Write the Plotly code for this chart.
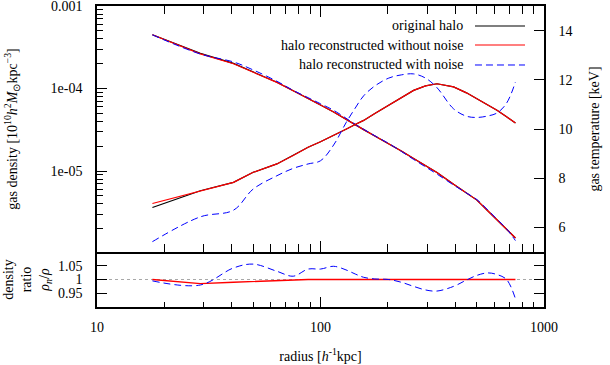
import plotly.graph_objects as go

# radial bins [h^-1 kpc]
radius = [17.7, 29, 40.8, 50, 63.8, 75.5, 88, 100, 114.5, 130, 143, 156, 175,
          202, 230, 261, 295, 332, 394, 450, 501, 560, 616, 680, 745]

# gas density [1e10 h^2 Msun kpc^-3]
dens_orig = [4.49e-4, 2.67e-4, 2.02e-4, 1.59e-4, 1.19e-4, 9.4e-5, 7.48e-5, 6.31e-5,
             5.2e-5, 4.23e-5, 3.61e-5, 3.18e-5, 2.67e-5, 2.16e-5, 1.75e-5, 1.42e-5,
             1.17e-5, 9.6e-6, 6.95e-6, 5.43e-6, 4.45e-6, 3.31e-6, 2.57e-6, 2.0e-6, 1.55e-6]
dens_clean = [4.49e-4, 2.63e-4, 2.0e-4, 1.58e-4, 1.187e-4, 9.4e-5, 7.48e-5, 6.31e-5,
              5.2e-5, 4.23e-5, 3.61e-5, 3.18e-5, 2.67e-5, 2.16e-5, 1.75e-5, 1.42e-5,
              1.17e-5, 9.6e-6, 6.95e-6, 5.43e-6, 4.45e-6, 3.31e-6, 2.57e-6, 2.0e-6, 1.55e-6]
dens_noisy = [4.47e-4, 2.62e-4, 2.10e-4, 1.68e-4, 1.226e-4, 9.51e-5, 7.76e-5, 6.55e-5,
              5.45e-5, 4.38e-5, 3.68e-5, 3.21e-5, 2.68e-5, 2.16e-5, 1.73e-5, 1.385e-5,
              1.125e-5, 9.2e-6, 6.78e-6, 5.42e-6, 4.52e-6, 3.39e-6, 2.62e-6, 2.0e-6, 1.44e-6]

# gas temperature [keV]
temp_orig = [6.81, 7.49, 7.83, 8.24, 8.58, 8.92, 9.26, 9.48, 9.73, 9.99, 10.18, 10.35,
             10.63, 10.96, 11.27, 11.57, 11.75, 11.84, 11.71, 11.47, 11.23, 10.99,
             10.76, 10.50, 10.24]
temp_clean = [6.97, 7.49, 7.83, 8.24, 8.58, 8.92, 9.26, 9.48, 9.73, 9.99, 10.18, 10.35,
              10.63, 10.96, 11.27, 11.57, 11.75, 11.84, 11.71, 11.47, 11.23, 10.99,
              10.76, 10.50, 10.24]
temp_noisy = [5.42, 6.43, 6.70, 7.56, 8.10, 8.40, 8.58, 8.71, 9.35, 10.25, 10.85, 11.35,
              11.75, 12.07, 12.20, 12.24, 12.07, 11.68, 10.82, 10.52, 10.47, 10.53,
              10.65, 11.05, 11.91]

# density ratio rho_n / rho
ratio_clean = [1.0, 0.985, 0.99, 0.993, 0.997, 1.0, 1.0, 1.0, 1.0, 0.999, 1.0, 1.0, 1.0,
               0.999, 1.0, 1.001, 1.0, 1.0, 1.001, 1.0, 1.0, 1.001, 1.0, 1.0, 1.0]
ratio_noisy = [0.995, 0.98, 1.042, 1.056, 1.03, 1.012, 1.038, 1.038, 1.048, 1.035, 1.02,
               1.008, 1.002, 1.0, 0.99, 0.975, 0.962, 0.958, 0.975, 0.998, 1.015, 1.024,
               1.018, 1.0, 0.93]
ratio_ref_x = [10, 1000]
ratio_ref_y = [1, 1]

legend_names = ["original halo", "halo reconstructed without noise",
                "halo reconstructed with noise"]

FONT = "Liberation Serif"
BLACK = "#000000"
RED = "#ff0000"
BLUE = "#0000ff"
DASH = "7px,4px"

fig = go.Figure()

# top panel: density (left, log)
fig.add_trace(go.Scatter(x=radius, y=dens_orig, xaxis="x2", yaxis="y",
                         mode="lines", line=dict(color=BLACK, width=1.2)))
fig.add_trace(go.Scatter(x=radius, y=dens_clean, xaxis="x2", yaxis="y",
                         mode="lines", line=dict(color=RED, width=1.2)))
fig.add_trace(go.Scatter(x=radius, y=dens_noisy, xaxis="x2", yaxis="y",
                         mode="lines", line=dict(color=BLUE, width=1, dash=DASH, shape="spline")))

# top panel: temperature (right, linear)
fig.add_trace(go.Scatter(x=radius, y=temp_orig, xaxis="x2", yaxis="y2",
                         mode="lines", line=dict(color=BLACK, width=1.2)))
fig.add_trace(go.Scatter(x=radius, y=temp_clean, xaxis="x2", yaxis="y2",
                         mode="lines", line=dict(color=RED, width=1.2)))
fig.add_trace(go.Scatter(x=radius, y=temp_noisy, xaxis="x2", yaxis="y2",
                         mode="lines", line=dict(color=BLUE, width=1, dash=DASH, shape="spline")))

# bottom panel: ratio, with dotted line at 1
fig.add_trace(go.Scatter(x=ratio_ref_x, y=ratio_ref_y, xaxis="x", yaxis="y3",
                         mode="lines", line=dict(color="#a8a8a8", width=1, dash="dot")))
fig.add_trace(go.Scatter(x=radius, y=ratio_clean, xaxis="x", yaxis="y3",
                         mode="lines", line=dict(color=RED, width=1.3)))
fig.add_trace(go.Scatter(x=radius, y=ratio_noisy, xaxis="x", yaxis="y3",
                         mode="lines", line=dict(color=BLUE, width=1, dash=DASH, shape="spline")))

split = 0.1827
xminor = [k * 10 ** e for e in (1, 2) for k in range(2, 10)]
yminor = [k * 10 ** e for e in (-6, -5, -4) for k in range(2, 10)]

axis_common = dict(showline=True, linecolor="black", linewidth=1.5, showgrid=False,
                   zeroline=False, ticks="inside", tickcolor="black", tickwidth=1,
                   automargin=False, ticklabeloverflow="allow",
                   tickfont=dict(family=FONT, size=14, color="black"))

fig.update_layout(
    width=610, height=365,
    margin=dict(l=97, r=66, t=6, b=58),
    plot_bgcolor="white", paper_bgcolor="white",
    showlegend=False,
    font=dict(family=FONT, size=14, color="black"),
    xaxis=dict(axis_common, type="log", range=[1, 3], domain=[0, 1], anchor="y3",
               tickvals=[10, 100, 1000], ticktext=["10", "100", "1000"],
               ticklen=10, ticklabelstandoff=6,
               minor=dict(ticks="inside", ticklen=5, tickcolor="black",
                          tickmode="array", tickvals=xminor),
               title=dict(text="radius [<i>h</i><sup>-1</sup>kpc]", standoff=18,
                          font=dict(family=FONT, size=14))),
    xaxis2=dict(axis_common, type="log", range=[1, 3], domain=[0, 1], anchor="y",
                matches="x", mirror="ticks", tickvals=[10, 100, 1000], showticklabels=False,
                ticklen=11,
                minor=dict(ticks="inside", ticklen=8, tickcolor="black",
                           tickmode="array", tickvals=xminor)),
    yaxis=dict(axis_common, type="log", range=[-5.98, -3], domain=[split, 1], anchor="x2",
               tickvals=[1e-5, 1e-4, 1e-3], ticktext=["1e-05", "1e-04", "0.001"],
               ticklen=10, ticklabelstandoff=10,
               minor=dict(ticks="inside", ticklen=6, tickcolor="black",
                          tickmode="array", tickvals=yminor),
               title=dict(text="gas density [10<sup>10</sup><i>h</i><sup>2</sup><i>M</i><sub>⊙</sub>kpc<sup>−3</sup>]",
                          standoff=30, font=dict(family=FONT, size=14))),
    yaxis2=dict(axis_common, range=[5, 15], overlaying="y", side="right", anchor="x2",
                tickvals=[6, 8, 10, 12, 14], ticklen=10, ticklabelstandoff=10,
                title=dict(text="gas temperature [keV]", standoff=18,
                           font=dict(family=FONT, size=14))),
    yaxis3=dict(axis_common, range=[0.9, 1.1], domain=[0, split], anchor="x",
                mirror="ticks", tickvals=[0.95, 1, 1.05], ticktext=["0.95", "1", "1.05"],
                ticklen=10, ticklabelstandoff=10,
                title=dict(text="density<br>ratio<br><i>ρ<sub>n</sub></i>/<i>ρ</i>",
                           standoff=5, font=dict(family=FONT, size=14))),
)

# legend drawn gnuplot style: text right-aligned, sample on the right
legend_y = [0.9336, 0.8704, 0.804]
legend_styles = [dict(color=BLACK, width=1.2), dict(color=RED, width=1.2),
                 dict(color=BLUE, width=1, dash=DASH)]
for name, ly, st in zip(legend_names, legend_y, legend_styles):
    fig.add_annotation(x=0.823, y=ly, xref="paper", yref="paper", text=name,
                       showarrow=False, xanchor="right", yanchor="middle",
                       font=dict(family=FONT, size=14, color="black"))
    fig.add_shape(type="line", xref="paper", yref="paper", x0=0.8456, x1=0.9575,
                  y0=ly, y1=ly, line=st)

fig.write_html("out.html", config={"displayModeBar": False},
               post_script="document.body.style.margin='0';document.body.style.overflow='hidden';")
